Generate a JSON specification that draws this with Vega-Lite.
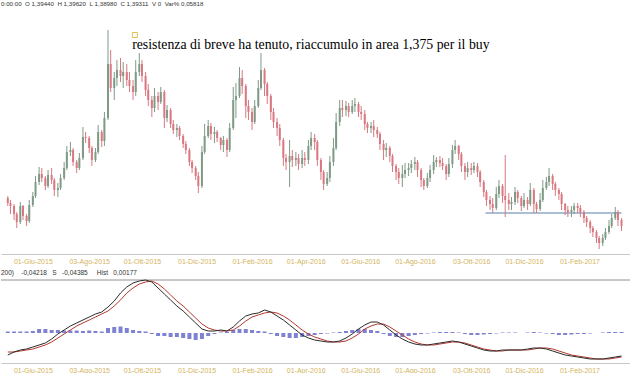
{
"$schema": "https://vega.github.io/schema/vega-lite/v6.json",
"padding": 0,
"spacing": 5,
"background": "white",
"config": {"view": {"stroke": null}, "axis": {"grid": false}},
"datasets": {
"k": [
{"d":"2015-05-04","o":1.432,"h":1.434,"l":1.424,"c":1.427},
{"d":"2015-05-07","o":1.427,"h":1.430,"l":1.416,"c":1.424},
{"d":"2015-05-11","o":1.424,"h":1.426,"l":1.410,"c":1.416},
{"d":"2015-05-14","o":1.416,"h":1.418,"l":1.402,"c":1.408},
{"d":"2015-05-18","o":1.408,"h":1.428,"l":1.406,"c":1.424},
{"d":"2015-05-21","o":1.424,"h":1.425,"l":1.410,"c":1.414},
{"d":"2015-05-25","o":1.414,"h":1.416,"l":1.404,"c":1.409},
{"d":"2015-05-28","o":1.409,"h":1.430,"l":1.407,"c":1.425},
{"d":"2015-06-01","o":1.425,"h":1.438,"l":1.423,"c":1.434},
{"d":"2015-06-04","o":1.434,"h":1.454,"l":1.432,"c":1.448},
{"d":"2015-06-08","o":1.448,"h":1.463,"l":1.445,"c":1.456},
{"d":"2015-06-11","o":1.456,"h":1.462,"l":1.448,"c":1.452},
{"d":"2015-06-15","o":1.452,"h":1.454,"l":1.440,"c":1.444},
{"d":"2015-06-18","o":1.444,"h":1.460,"l":1.442,"c":1.455},
{"d":"2015-06-22","o":1.455,"h":1.462,"l":1.446,"c":1.450},
{"d":"2015-06-25","o":1.450,"h":1.452,"l":1.434,"c":1.440},
{"d":"2015-06-29","o":1.440,"h":1.447,"l":1.433,"c":1.442},
{"d":"2015-07-02","o":1.442,"h":1.456,"l":1.440,"c":1.452},
{"d":"2015-07-06","o":1.452,"h":1.468,"l":1.450,"c":1.462},
{"d":"2015-07-09","o":1.462,"h":1.484,"l":1.460,"c":1.478},
{"d":"2015-07-13","o":1.478,"h":1.488,"l":1.474,"c":1.480},
{"d":"2015-07-16","o":1.480,"h":1.482,"l":1.464,"c":1.468},
{"d":"2015-07-20","o":1.468,"h":1.470,"l":1.457,"c":1.462},
{"d":"2015-07-23","o":1.462,"h":1.477,"l":1.460,"c":1.472},
{"d":"2015-07-27","o":1.472,"h":1.503,"l":1.470,"c":1.493},
{"d":"2015-07-30","o":1.493,"h":1.498,"l":1.487,"c":1.492},
{"d":"2015-08-03","o":1.492,"h":1.494,"l":1.477,"c":1.482},
{"d":"2015-08-06","o":1.482,"h":1.484,"l":1.464,"c":1.470},
{"d":"2015-08-10","o":1.470,"h":1.482,"l":1.468,"c":1.478},
{"d":"2015-08-13","o":1.478,"h":1.505,"l":1.476,"c":1.498},
{"d":"2015-08-17","o":1.498,"h":1.500,"l":1.483,"c":1.489},
{"d":"2015-08-20","o":1.489,"h":1.518,"l":1.484,"c":1.512},
{"d":"2015-08-24","o":1.512,"h":1.600,"l":1.510,"c":1.566},
{"d":"2015-08-27","o":1.566,"h":1.580,"l":1.538,"c":1.542},
{"d":"2015-08-31","o":1.542,"h":1.558,"l":1.530,"c":1.552},
{"d":"2015-09-03","o":1.552,"h":1.570,"l":1.544,"c":1.560},
{"d":"2015-09-07","o":1.560,"h":1.572,"l":1.548,"c":1.554},
{"d":"2015-09-10","o":1.554,"h":1.568,"l":1.542,"c":1.558},
{"d":"2015-09-14","o":1.558,"h":1.566,"l":1.544,"c":1.550},
{"d":"2015-09-17","o":1.550,"h":1.558,"l":1.538,"c":1.544},
{"d":"2015-09-21","o":1.544,"h":1.550,"l":1.530,"c":1.538},
{"d":"2015-09-24","o":1.538,"h":1.570,"l":1.534,"c":1.558},
{"d":"2015-09-28","o":1.558,"h":1.577,"l":1.554,"c":1.566},
{"d":"2015-10-01","o":1.566,"h":1.570,"l":1.548,"c":1.554},
{"d":"2015-10-05","o":1.554,"h":1.558,"l":1.534,"c":1.540},
{"d":"2015-10-08","o":1.540,"h":1.546,"l":1.524,"c":1.530},
{"d":"2015-10-12","o":1.530,"h":1.534,"l":1.513,"c":1.522},
{"d":"2015-10-15","o":1.522,"h":1.542,"l":1.518,"c":1.534},
{"d":"2015-10-19","o":1.534,"h":1.538,"l":1.520,"c":1.528},
{"d":"2015-10-22","o":1.528,"h":1.543,"l":1.526,"c":1.538},
{"d":"2015-10-26","o":1.538,"h":1.540,"l":1.502,"c":1.512},
{"d":"2015-10-29","o":1.512,"h":1.525,"l":1.508,"c":1.520},
{"d":"2015-11-02","o":1.520,"h":1.522,"l":1.502,"c":1.506},
{"d":"2015-11-05","o":1.506,"h":1.510,"l":1.496,"c":1.500},
{"d":"2015-11-09","o":1.500,"h":1.506,"l":1.493,"c":1.502},
{"d":"2015-11-12","o":1.502,"h":1.504,"l":1.490,"c":1.494},
{"d":"2015-11-16","o":1.494,"h":1.496,"l":1.482,"c":1.486},
{"d":"2015-11-19","o":1.486,"h":1.489,"l":1.476,"c":1.480},
{"d":"2015-11-23","o":1.480,"h":1.482,"l":1.464,"c":1.468},
{"d":"2015-11-26","o":1.468,"h":1.470,"l":1.457,"c":1.462},
{"d":"2015-11-30","o":1.462,"h":1.464,"l":1.450,"c":1.454},
{"d":"2015-12-03","o":1.454,"h":1.458,"l":1.437,"c":1.444},
{"d":"2015-12-07","o":1.444,"h":1.484,"l":1.442,"c":1.478},
{"d":"2015-12-10","o":1.478,"h":1.506,"l":1.476,"c":1.494},
{"d":"2015-12-14","o":1.494,"h":1.510,"l":1.492,"c":1.504},
{"d":"2015-12-17","o":1.504,"h":1.507,"l":1.490,"c":1.496},
{"d":"2015-12-21","o":1.496,"h":1.503,"l":1.487,"c":1.498},
{"d":"2015-12-24","o":1.498,"h":1.500,"l":1.488,"c":1.492},
{"d":"2015-12-28","o":1.492,"h":1.493,"l":1.480,"c":1.485},
{"d":"2015-12-31","o":1.485,"h":1.494,"l":1.478,"c":1.490},
{"d":"2016-01-04","o":1.490,"h":1.492,"l":1.473,"c":1.480},
{"d":"2016-01-07","o":1.480,"h":1.507,"l":1.478,"c":1.502},
{"d":"2016-01-11","o":1.502,"h":1.543,"l":1.500,"c":1.530},
{"d":"2016-01-14","o":1.530,"h":1.547,"l":1.512,"c":1.534},
{"d":"2016-01-18","o":1.534,"h":1.563,"l":1.532,"c":1.552},
{"d":"2016-01-21","o":1.552,"h":1.560,"l":1.536,"c":1.544},
{"d":"2016-01-25","o":1.544,"h":1.546,"l":1.512,"c":1.524},
{"d":"2016-01-28","o":1.524,"h":1.530,"l":1.510,"c":1.518},
{"d":"2016-02-01","o":1.518,"h":1.522,"l":1.500,"c":1.508},
{"d":"2016-02-04","o":1.508,"h":1.530,"l":1.506,"c":1.524},
{"d":"2016-02-08","o":1.524,"h":1.550,"l":1.522,"c":1.542},
{"d":"2016-02-11","o":1.542,"h":1.577,"l":1.540,"c":1.560},
{"d":"2016-02-15","o":1.560,"h":1.562,"l":1.534,"c":1.546},
{"d":"2016-02-18","o":1.546,"h":1.548,"l":1.526,"c":1.534},
{"d":"2016-02-22","o":1.534,"h":1.536,"l":1.510,"c":1.518},
{"d":"2016-02-25","o":1.518,"h":1.522,"l":1.502,"c":1.508},
{"d":"2016-02-29","o":1.508,"h":1.512,"l":1.494,"c":1.502},
{"d":"2016-03-03","o":1.502,"h":1.506,"l":1.484,"c":1.490},
{"d":"2016-03-07","o":1.490,"h":1.492,"l":1.464,"c":1.472},
{"d":"2016-03-10","o":1.472,"h":1.476,"l":1.460,"c":1.468},
{"d":"2016-03-14","o":1.468,"h":1.490,"l":1.443,"c":1.474},
{"d":"2016-03-17","o":1.474,"h":1.480,"l":1.463,"c":1.470},
{"d":"2016-03-21","o":1.470,"h":1.478,"l":1.464,"c":1.472},
{"d":"2016-03-24","o":1.472,"h":1.476,"l":1.460,"c":1.466},
{"d":"2016-03-28","o":1.466,"h":1.480,"l":1.462,"c":1.472},
{"d":"2016-03-31","o":1.472,"h":1.478,"l":1.464,"c":1.470},
{"d":"2016-04-04","o":1.470,"h":1.490,"l":1.466,"c":1.484},
{"d":"2016-04-07","o":1.484,"h":1.498,"l":1.480,"c":1.492},
{"d":"2016-04-11","o":1.492,"h":1.496,"l":1.480,"c":1.488},
{"d":"2016-04-14","o":1.488,"h":1.490,"l":1.464,"c":1.470},
{"d":"2016-04-18","o":1.470,"h":1.472,"l":1.450,"c":1.458},
{"d":"2016-04-21","o":1.458,"h":1.460,"l":1.440,"c":1.446},
{"d":"2016-04-25","o":1.446,"h":1.458,"l":1.444,"c":1.452},
{"d":"2016-04-28","o":1.452,"h":1.474,"l":1.448,"c":1.468},
{"d":"2016-05-02","o":1.468,"h":1.492,"l":1.464,"c":1.482},
{"d":"2016-05-05","o":1.482,"h":1.517,"l":1.480,"c":1.508},
{"d":"2016-05-09","o":1.508,"h":1.530,"l":1.504,"c":1.522},
{"d":"2016-05-12","o":1.522,"h":1.530,"l":1.513,"c":1.520},
{"d":"2016-05-16","o":1.520,"h":1.529,"l":1.514,"c":1.524},
{"d":"2016-05-19","o":1.524,"h":1.527,"l":1.513,"c":1.518},
{"d":"2016-05-23","o":1.518,"h":1.530,"l":1.516,"c":1.524},
{"d":"2016-05-26","o":1.524,"h":1.532,"l":1.518,"c":1.526},
{"d":"2016-05-30","o":1.526,"h":1.528,"l":1.513,"c":1.518},
{"d":"2016-06-02","o":1.518,"h":1.524,"l":1.510,"c":1.516},
{"d":"2016-06-06","o":1.516,"h":1.520,"l":1.500,"c":1.506},
{"d":"2016-06-09","o":1.506,"h":1.508,"l":1.497,"c":1.502},
{"d":"2016-06-13","o":1.502,"h":1.508,"l":1.497,"c":1.504},
{"d":"2016-06-16","o":1.504,"h":1.510,"l":1.493,"c":1.500},
{"d":"2016-06-20","o":1.500,"h":1.503,"l":1.492,"c":1.496},
{"d":"2016-06-23","o":1.496,"h":1.498,"l":1.480,"c":1.486},
{"d":"2016-06-27","o":1.486,"h":1.490,"l":1.470,"c":1.480},
{"d":"2016-06-30","o":1.480,"h":1.487,"l":1.473,"c":1.482},
{"d":"2016-07-04","o":1.482,"h":1.484,"l":1.468,"c":1.474},
{"d":"2016-07-07","o":1.474,"h":1.476,"l":1.458,"c":1.464},
{"d":"2016-07-11","o":1.464,"h":1.466,"l":1.450,"c":1.458},
{"d":"2016-07-14","o":1.458,"h":1.462,"l":1.446,"c":1.452},
{"d":"2016-07-18","o":1.452,"h":1.465,"l":1.443,"c":1.456},
{"d":"2016-07-21","o":1.456,"h":1.467,"l":1.452,"c":1.460},
{"d":"2016-07-25","o":1.460,"h":1.467,"l":1.454,"c":1.462},
{"d":"2016-07-28","o":1.462,"h":1.470,"l":1.457,"c":1.466},
{"d":"2016-08-01","o":1.466,"h":1.473,"l":1.460,"c":1.468},
{"d":"2016-08-04","o":1.468,"h":1.470,"l":1.453,"c":1.460},
{"d":"2016-08-08","o":1.460,"h":1.462,"l":1.443,"c":1.450},
{"d":"2016-08-11","o":1.450,"h":1.452,"l":1.440,"c":1.444},
{"d":"2016-08-15","o":1.444,"h":1.457,"l":1.442,"c":1.452},
{"d":"2016-08-18","o":1.452,"h":1.465,"l":1.448,"c":1.460},
{"d":"2016-08-22","o":1.460,"h":1.475,"l":1.456,"c":1.468},
{"d":"2016-08-25","o":1.468,"h":1.473,"l":1.463,"c":1.470},
{"d":"2016-08-29","o":1.470,"h":1.474,"l":1.463,"c":1.467},
{"d":"2016-09-01","o":1.467,"h":1.472,"l":1.460,"c":1.464},
{"d":"2016-09-05","o":1.464,"h":1.466,"l":1.450,"c":1.456},
{"d":"2016-09-08","o":1.456,"h":1.472,"l":1.453,"c":1.466},
{"d":"2016-09-12","o":1.466,"h":1.485,"l":1.462,"c":1.480},
{"d":"2016-09-15","o":1.480,"h":1.490,"l":1.476,"c":1.484},
{"d":"2016-09-19","o":1.484,"h":1.485,"l":1.470,"c":1.476},
{"d":"2016-09-22","o":1.476,"h":1.478,"l":1.458,"c":1.464},
{"d":"2016-09-26","o":1.464,"h":1.467,"l":1.450,"c":1.458},
{"d":"2016-09-29","o":1.458,"h":1.468,"l":1.453,"c":1.462},
{"d":"2016-10-03","o":1.462,"h":1.467,"l":1.455,"c":1.460},
{"d":"2016-10-06","o":1.460,"h":1.468,"l":1.457,"c":1.464},
{"d":"2016-10-10","o":1.464,"h":1.467,"l":1.453,"c":1.458},
{"d":"2016-10-13","o":1.458,"h":1.460,"l":1.443,"c":1.448},
{"d":"2016-10-17","o":1.448,"h":1.450,"l":1.433,"c":1.438},
{"d":"2016-10-20","o":1.438,"h":1.440,"l":1.424,"c":1.430},
{"d":"2016-10-24","o":1.430,"h":1.434,"l":1.420,"c":1.426},
{"d":"2016-10-27","o":1.426,"h":1.432,"l":1.417,"c":1.422},
{"d":"2016-10-31","o":1.422,"h":1.443,"l":1.420,"c":1.436},
{"d":"2016-11-03","o":1.436,"h":1.450,"l":1.432,"c":1.444},
{"d":"2016-11-07","o":1.444,"h":1.446,"l":1.427,"c":1.434},
{"d":"2016-11-10","o":1.434,"h":1.475,"l":1.413,"c":1.430},
{"d":"2016-11-14","o":1.430,"h":1.437,"l":1.420,"c":1.426},
{"d":"2016-11-17","o":1.426,"h":1.433,"l":1.420,"c":1.428},
{"d":"2016-11-21","o":1.428,"h":1.443,"l":1.425,"c":1.438},
{"d":"2016-11-24","o":1.438,"h":1.440,"l":1.427,"c":1.432},
{"d":"2016-11-28","o":1.432,"h":1.434,"l":1.419,"c":1.424},
{"d":"2016-12-01","o":1.424,"h":1.437,"l":1.422,"c":1.430},
{"d":"2016-12-05","o":1.430,"h":1.433,"l":1.420,"c":1.426},
{"d":"2016-12-08","o":1.426,"h":1.447,"l":1.424,"c":1.440},
{"d":"2016-12-12","o":1.440,"h":1.442,"l":1.417,"c":1.426},
{"d":"2016-12-15","o":1.426,"h":1.428,"l":1.417,"c":1.421},
{"d":"2016-12-19","o":1.421,"h":1.437,"l":1.419,"c":1.430},
{"d":"2016-12-22","o":1.430,"h":1.450,"l":1.428,"c":1.442},
{"d":"2016-12-26","o":1.442,"h":1.453,"l":1.440,"c":1.448},
{"d":"2016-12-29","o":1.448,"h":1.462,"l":1.444,"c":1.454},
{"d":"2017-01-02","o":1.454,"h":1.456,"l":1.440,"c":1.446},
{"d":"2017-01-05","o":1.446,"h":1.448,"l":1.434,"c":1.440},
{"d":"2017-01-09","o":1.440,"h":1.442,"l":1.430,"c":1.436},
{"d":"2017-01-12","o":1.436,"h":1.438,"l":1.420,"c":1.426},
{"d":"2017-01-16","o":1.426,"h":1.427,"l":1.415,"c":1.420},
{"d":"2017-01-19","o":1.420,"h":1.424,"l":1.413,"c":1.418},
{"d":"2017-01-23","o":1.418,"h":1.424,"l":1.413,"c":1.420},
{"d":"2017-01-26","o":1.420,"h":1.427,"l":1.416,"c":1.424},
{"d":"2017-01-30","o":1.424,"h":1.427,"l":1.417,"c":1.422},
{"d":"2017-02-02","o":1.422,"h":1.425,"l":1.413,"c":1.418},
{"d":"2017-02-06","o":1.418,"h":1.420,"l":1.407,"c":1.412},
{"d":"2017-02-09","o":1.412,"h":1.414,"l":1.403,"c":1.408},
{"d":"2017-02-13","o":1.408,"h":1.410,"l":1.397,"c":1.402},
{"d":"2017-02-16","o":1.402,"h":1.404,"l":1.393,"c":1.398},
{"d":"2017-02-20","o":1.398,"h":1.400,"l":1.387,"c":1.392},
{"d":"2017-02-23","o":1.392,"h":1.394,"l":1.381,"c":1.387},
{"d":"2017-02-27","o":1.387,"h":1.396,"l":1.384,"c":1.392},
{"d":"2017-03-02","o":1.392,"h":1.402,"l":1.390,"c":1.398},
{"d":"2017-03-06","o":1.398,"h":1.410,"l":1.396,"c":1.404},
{"d":"2017-03-09","o":1.404,"h":1.416,"l":1.402,"c":1.412},
{"d":"2017-03-13","o":1.412,"h":1.423,"l":1.410,"c":1.418},
{"d":"2017-03-16","o":1.418,"h":1.420,"l":1.404,"c":1.410},
{"d":"2017-03-20","o":1.410,"h":1.412,"l":1.399,"c":1.404}
],
"w": [
{"d":"2015-05-04","m":-0.044,"s":-0.038,"h":0.003},
{"d":"2015-05-11","m":-0.038,"s":-0.038,"h":0.003},
{"d":"2015-05-18","m":-0.034,"s":-0.036,"h":0.003},
{"d":"2015-05-25","m":-0.032,"s":-0.034,"h":0.003},
{"d":"2015-06-01","m":-0.028,"s":-0.032,"h":0.004},
{"d":"2015-06-08","m":-0.024,"s":-0.028,"h":0.008},
{"d":"2015-06-15","m":-0.020,"s":-0.024,"h":0.008},
{"d":"2015-06-22","m":-0.012,"s":-0.018,"h":0.006},
{"d":"2015-06-29","m":-0.002,"s":-0.010,"h":0.006},
{"d":"2015-07-06","m":0.006,"s":-0.002,"h":0.005},
{"d":"2015-07-13","m":0.014,"s":0.006,"h":0.005},
{"d":"2015-07-20","m":0.020,"s":0.014,"h":0.005},
{"d":"2015-07-27","m":0.026,"s":0.020,"h":0.004},
{"d":"2015-08-03","m":0.032,"s":0.026,"h":0.005},
{"d":"2015-08-10","m":0.038,"s":0.032,"h":0.004},
{"d":"2015-08-17","m":0.042,"s":0.038,"h":0.003},
{"d":"2015-08-24","m":0.052,"s":0.044,"h":0.010},
{"d":"2015-08-31","m":0.064,"s":0.054,"h":0.012},
{"d":"2015-09-07","m":0.080,"s":0.066,"h":0.013},
{"d":"2015-09-14","m":0.092,"s":0.080,"h":0.010},
{"d":"2015-09-21","m":0.100,"s":0.090,"h":0.006},
{"d":"2015-09-28","m":0.104,"s":0.098,"h":0.004},
{"d":"2015-10-05","m":0.106,"s":0.102,"h":0.003},
{"d":"2015-10-12","m":0.102,"s":0.104,"h":-0.002},
{"d":"2015-10-19","m":0.090,"s":0.098,"h":-0.006},
{"d":"2015-10-26","m":0.078,"s":0.088,"h":-0.006},
{"d":"2015-11-02","m":0.066,"s":0.076,"h":-0.008},
{"d":"2015-11-09","m":0.054,"s":0.064,"h":-0.008},
{"d":"2015-11-16","m":0.044,"s":0.054,"h":-0.010},
{"d":"2015-11-23","m":0.032,"s":0.042,"h":-0.012},
{"d":"2015-11-30","m":0.020,"s":0.030,"h":-0.014},
{"d":"2015-12-07","m":0.008,"s":0.018,"h":-0.012},
{"d":"2015-12-14","m":0.004,"s":0.010,"h":-0.006},
{"d":"2015-12-21","m":0.004,"s":0.006,"h":-0.002},
{"d":"2015-12-28","m":0.006,"s":0.004,"h":0.001},
{"d":"2016-01-04","m":0.004,"s":0.004,"h":0.002},
{"d":"2016-01-11","m":0.012,"s":0.006,"h":0.006},
{"d":"2016-01-18","m":0.024,"s":0.014,"h":0.008},
{"d":"2016-01-25","m":0.034,"s":0.024,"h":0.008},
{"d":"2016-02-01","m":0.038,"s":0.032,"h":0.006},
{"d":"2016-02-08","m":0.040,"s":0.036,"h":0.004},
{"d":"2016-02-15","m":0.046,"s":0.040,"h":0.003},
{"d":"2016-02-22","m":0.042,"s":0.042,"h":-0.002},
{"d":"2016-02-29","m":0.034,"s":0.040,"h":-0.006},
{"d":"2016-03-07","m":0.026,"s":0.034,"h":-0.008},
{"d":"2016-03-14","m":0.016,"s":0.026,"h":-0.010},
{"d":"2016-03-21","m":0.006,"s":0.016,"h":-0.010},
{"d":"2016-03-28","m":-0.004,"s":0.006,"h":-0.008},
{"d":"2016-04-04","m":-0.010,"s":-0.002,"h":-0.006},
{"d":"2016-04-11","m":-0.014,"s":-0.008,"h":-0.004},
{"d":"2016-04-18","m":-0.016,"s":-0.012,"h":-0.002},
{"d":"2016-04-25","m":-0.018,"s":-0.016,"h":-0.001},
{"d":"2016-05-02","m":-0.018,"s":-0.018,"h":0.001},
{"d":"2016-05-09","m":-0.016,"s":-0.018,"h":0.002},
{"d":"2016-05-16","m":-0.010,"s":-0.016,"h":0.004},
{"d":"2016-05-23","m":-0.002,"s":-0.010,"h":0.006},
{"d":"2016-05-30","m":0.008,"s":-0.002,"h":0.008},
{"d":"2016-06-06","m":0.016,"s":0.008,"h":0.008},
{"d":"2016-06-13","m":0.022,"s":0.014,"h":0.006},
{"d":"2016-06-20","m":0.022,"s":0.018,"h":0.004},
{"d":"2016-06-27","m":0.016,"s":0.018,"h":-0.002},
{"d":"2016-07-04","m":0.006,"s":0.012,"h":-0.006},
{"d":"2016-07-11","m":-0.004,"s":0.004,"h":-0.008},
{"d":"2016-07-18","m":-0.012,"s":-0.004,"h":-0.008},
{"d":"2016-07-25","m":-0.018,"s":-0.012,"h":-0.006},
{"d":"2016-08-01","m":-0.022,"s":-0.018,"h":-0.004},
{"d":"2016-08-08","m":-0.024,"s":-0.022,"h":-0.002},
{"d":"2016-08-15","m":-0.024,"s":-0.024,"h":-0.001},
{"d":"2016-08-22","m":-0.022,"s":-0.024,"h":0.001},
{"d":"2016-08-29","m":-0.020,"s":-0.022,"h":0.002},
{"d":"2016-09-05","m":-0.018,"s":-0.020,"h":0.002},
{"d":"2016-09-12","m":-0.016,"s":-0.018,"h":0.002},
{"d":"2016-09-19","m":-0.018,"s":-0.018,"h":0.001},
{"d":"2016-09-26","m":-0.022,"s":-0.020,"h":-0.002},
{"d":"2016-10-03","m":-0.026,"s":-0.024,"h":-0.004},
{"d":"2016-10-10","m":-0.030,"s":-0.028,"h":-0.004},
{"d":"2016-10-17","m":-0.034,"s":-0.032,"h":-0.003},
{"d":"2016-10-24","m":-0.036,"s":-0.034,"h":-0.002},
{"d":"2016-10-31","m":-0.036,"s":-0.036,"h":-0.001},
{"d":"2016-11-07","m":-0.034,"s":-0.036,"h":0.001},
{"d":"2016-11-14","m":-0.034,"s":-0.034,"h":0.001},
{"d":"2016-11-21","m":-0.034,"s":-0.034,"h":0.001},
{"d":"2016-11-28","m":-0.034,"s":-0.034,"h":0.0},
{"d":"2016-12-05","m":-0.032,"s":-0.034,"h":0.001},
{"d":"2016-12-12","m":-0.030,"s":-0.032,"h":0.002},
{"d":"2016-12-19","m":-0.030,"s":-0.030,"h":0.001},
{"d":"2016-12-26","m":-0.032,"s":-0.030,"h":-0.001},
{"d":"2017-01-02","m":-0.036,"s":-0.032,"h":-0.002},
{"d":"2017-01-09","m":-0.040,"s":-0.036,"h":-0.004},
{"d":"2017-01-16","m":-0.044,"s":-0.040,"h":-0.004},
{"d":"2017-01-23","m":-0.046,"s":-0.044,"h":-0.003},
{"d":"2017-01-30","m":-0.048,"s":-0.046,"h":-0.002},
{"d":"2017-02-06","m":-0.050,"s":-0.048,"h":-0.002},
{"d":"2017-02-13","m":-0.052,"s":-0.050,"h":-0.001},
{"d":"2017-02-20","m":-0.052,"s":-0.052,"h":0.0},
{"d":"2017-02-27","m":-0.052,"s":-0.052,"h":0.001},
{"d":"2017-03-06","m":-0.050,"s":-0.052,"h":0.002},
{"d":"2017-03-13","m":-0.048,"s":-0.050,"h":0.002},
{"d":"2017-03-20","m":-0.046,"s":-0.048,"h":0.002}
]
},
"vconcat": [
{
"width": 630,
"height": 245,
"title": {"text": "0:00:00\u00a0\u00a0O\u00a01,39440\u00a0\u00a0H\u00a01,39620\u00a0\u00a0L\u00a01,38980\u00a0\u00a0C\u00a01,39311\u00a0\u00a0V\u00a00\u00a0\u00a0Var%\u00a00,05818", "anchor": "start", "frame": "group", "fontSize": 6.2, "fontWeight": "normal", "font": "Liberation Sans", "color": "#333333", "offset": 2},
"layer": [
{"mark": {"type": "rule", "color": "#c8c8c8", "strokeWidth": 1}, "encoding": {"y": {"datum": 1.621, "type": "quantitative", "scale": {"domain": [1.376, 1.621], "nice": false, "zero": false}, "axis": null}}},
{"mark": {"type": "rule", "color": "#444444", "strokeWidth": 1, "strokeDash": [3, 3]}, "encoding": {"y": {"datum": 1.386, "type": "quantitative"}}},
{"data": {"values": [{"a": "2016-10-19", "b": "2017-03-20", "p": 1.417}]}, "mark": {"type": "rule", "color": "#a9bfd6", "strokeWidth": 2}, "encoding": {"x": {"field": "a", "type": "temporal", "title": null}, "x2": {"field": "b"}, "y": {"field": "p", "type": "quantitative"}}},
{"data": {"name": "k"}, "mark": {"type": "rule", "strokeWidth": 1}, "encoding": {
 "x": {"field": "d", "type": "temporal", "title": null, "scale": {"type": "utc", "domain": [{"year": 2015, "month": 5, "date": 2, "utc": true}, {"year": 2017, "month": 3, "date": 25, "utc": true}]},
  "axis": {"title": null, "values": [{"year":2015,"month":6,"date":1,"utc":true},{"year":2015,"month":8,"date":3,"utc":true},{"year":2015,"month":10,"date":1,"utc":true},{"year":2015,"month":12,"date":1,"utc":true},{"year":2016,"month":2,"date":1,"utc":true},{"year":2016,"month":4,"date":1,"utc":true},{"year":2016,"month":6,"date":1,"utc":true},{"year":2016,"month":8,"date":1,"utc":true},{"year":2016,"month":10,"date":3,"utc":true},{"year":2016,"month":12,"date":1,"utc":true},{"year":2017,"month":2,"date":1,"utc":true}],
  "labelExpr": "utcFormat(datum.value, '%d') + '-' + ['Gen','Feb','Mar','Apr','Mag','Giu','Lug','Ago','Set','Ott','Nov','Dic'][utcmonth(datum.value)] + '-' + utcFormat(datum.value, '%Y')",
  "labelFontSize": 7, "labelColor": "#d4b45c", "labelFont": "Liberation Sans", "ticks": false, "domainColor": "#c8c8c8", "labelPadding": 3, "grid": false, "labelOverlap": false, "labelFlush": false}},
 "y": {"field": "l", "type": "quantitative"}, "y2": {"field": "h"},
 "color": {"condition": {"test": "datum.c >= datum.o", "value": "#7f9a86"}, "value": "#d97880"}}},
{"data": {"name": "k"}, "mark": {"type": "bar", "size": 2}, "encoding": {
 "x": {"field": "d", "type": "temporal", "title": null},
 "y": {"field": "o", "type": "quantitative"}, "y2": {"field": "c"},
 "color": {"condition": {"test": "datum.c >= datum.o", "value": "#7f9a86"}, "value": "#d97880"}}},
{"data": {"values": [{"d": "2015-09-20", "p": 1.581, "t": "resistenza di breve ha tenuto, riaccumulo in area 1,375 per il buy"}]}, "mark": {"type": "text", "align": "left", "baseline": "alphabetic", "font": "Liberation Serif", "fontSize": 13.8, "color": "#000000"}, "encoding": {"x": {"field": "d", "type": "temporal", "title": null}, "y": {"field": "p", "type": "quantitative"}, "text": {"field": "t"}}},
{"data": {"values": [{"d": "2015-09-23", "p": 1.595}]}, "mark": {"type": "point", "shape": "square", "size": 25, "filled": false, "stroke": "#e0c050", "strokeWidth": 1, "opacity": 1}, "encoding": {"x": {"field": "d", "type": "temporal", "title": null}, "y": {"field": "p", "type": "quantitative"}}}
]
},
{
"width": 630,
"height": 83,
"title": {"text": "200)\u00a0\u00a0\u00a0\u00a0-0,04218\u00a0\u00a0\u00a0S\u00a0\u00a0\u00a0-0,04385\u00a0\u00a0\u00a0\u00a0\u00a0Hist\u00a0\u00a0\u00a00,00177", "anchor": "start", "frame": "group", "fontSize": 6.5, "fontWeight": "normal", "font": "Liberation Sans", "color": "#333333", "offset": 2},
"data": {"name": "w"},
"layer": [
{"mark": {"type": "rule", "color": "#c8c8c8", "strokeWidth": 1}, "encoding": {"y": {"datum": 0.106, "type": "quantitative", "scale": {"domain": [-0.060, 0.106], "nice": false, "zero": false}, "axis": null}}},
{"mark": {"type": "bar", "size": 4, "color": "#7f82d2"}, "encoding": {
 "x": {"field": "d", "type": "temporal", "title": null, "scale": {"type": "utc", "domain": [{"year": 2015, "month": 5, "date": 2, "utc": true}, {"year": 2017, "month": 3, "date": 25, "utc": true}]},
  "axis": {"title": null, "values": [{"year":2015,"month":6,"date":1,"utc":true},{"year":2015,"month":8,"date":3,"utc":true},{"year":2015,"month":10,"date":1,"utc":true},{"year":2015,"month":12,"date":1,"utc":true},{"year":2016,"month":2,"date":1,"utc":true},{"year":2016,"month":4,"date":1,"utc":true},{"year":2016,"month":6,"date":1,"utc":true},{"year":2016,"month":8,"date":1,"utc":true},{"year":2016,"month":10,"date":3,"utc":true},{"year":2016,"month":12,"date":1,"utc":true},{"year":2017,"month":2,"date":1,"utc":true}],
  "labelExpr": "utcFormat(datum.value, '%d') + '-' + ['Gen','Feb','Mar','Apr','Mag','Giu','Lug','Ago','Set','Ott','Nov','Dic'][utcmonth(datum.value)] + '-' + utcFormat(datum.value, '%Y')",
  "labelFontSize": 7, "labelColor": "#d4b45c", "labelFont": "Liberation Sans", "ticks": false, "domainColor": "#c8c8c8", "labelPadding": 3, "grid": false, "labelOverlap": false, "labelFlush": false}},
 "y": {"field": "h", "type": "quantitative"}}},
{"mark": {"type": "line", "color": "#b5372c", "strokeWidth": 1}, "encoding": {"x": {"field": "d", "type": "temporal", "title": null}, "y": {"field": "s", "type": "quantitative"}}},
{"mark": {"type": "line", "color": "#2b2b2b", "strokeWidth": 1}, "encoding": {"x": {"field": "d", "type": "temporal", "title": null}, "y": {"field": "m", "type": "quantitative"}}}
]
}
]
}
